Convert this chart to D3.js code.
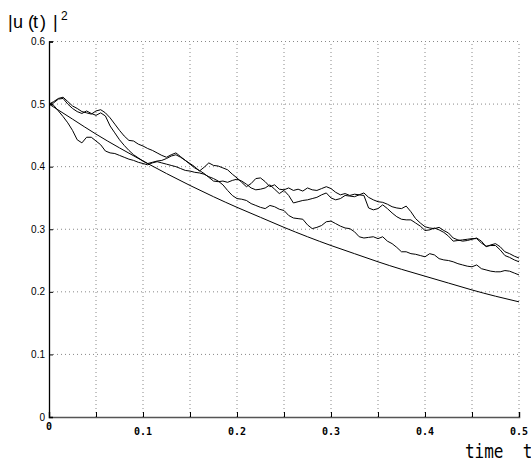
<!DOCTYPE html>
<html>
<head>
<meta charset="utf-8">
<script src="https://cdn.jsdelivr.net/npm/d3@7"></script>
<style>
  body { margin: 0; background: #fff; }
  svg { display: block; }
</style>
</head>
<body>
<svg width="531" height="463"></svg>
<script>
const width = 531;
const height = 463;

// sample times of the three simulated paths (step 0.005 from 0 to 0.5)
const timeStep = 0.005;
const pathTimes = d3.range(0, 0.5 + timeStep / 2, timeStep);

// three noisy paths
const pathA = [
  0.500, 0.504, 0.509, 0.511, 0.504, 0.497, 0.493, 0.488, 0.486, 0.484,
  0.489, 0.491, 0.486, 0.478, 0.468, 0.458, 0.449, 0.442, 0.441, 0.436,
  0.433, 0.429, 0.426, 0.422, 0.418, 0.415, 0.419, 0.422, 0.416, 0.410,
  0.405, 0.400, 0.393, 0.399, 0.406, 0.402, 0.401, 0.398, 0.395, 0.388,
  0.382, 0.375, 0.368, 0.373, 0.381, 0.382, 0.376, 0.368, 0.371, 0.364,
  0.363, 0.366, 0.362, 0.364, 0.361, 0.366, 0.363, 0.362, 0.365, 0.368,
  0.365, 0.359, 0.355, 0.357, 0.354, 0.356, 0.355, 0.358, 0.351, 0.347,
  0.344, 0.343, 0.340, 0.336, 0.334, 0.333, 0.337, 0.328, 0.317, 0.310,
  0.304, 0.302, 0.301, 0.303, 0.298, 0.294, 0.286, 0.283, 0.281, 0.282,
  0.284, 0.286, 0.281, 0.272, 0.275, 0.277, 0.272, 0.264, 0.261, 0.257,
  0.254
];
const pathB = [
  0.500, 0.502, 0.508, 0.509, 0.500, 0.493, 0.488, 0.485, 0.489, 0.485,
  0.482, 0.486, 0.481, 0.465, 0.454, 0.443, 0.434, 0.426, 0.419, 0.414,
  0.409, 0.405, 0.407, 0.409, 0.410, 0.413, 0.417, 0.419, 0.415, 0.410,
  0.404, 0.398, 0.394, 0.389, 0.383, 0.377, 0.376, 0.377, 0.375, 0.378,
  0.380, 0.377, 0.372, 0.366, 0.363, 0.364, 0.366, 0.371, 0.364, 0.357,
  0.362, 0.354, 0.342, 0.344, 0.346, 0.347, 0.349, 0.351, 0.355, 0.358,
  0.350, 0.347, 0.349, 0.354, 0.353, 0.352, 0.355, 0.354, 0.334, 0.331,
  0.333, 0.339, 0.333, 0.326, 0.320, 0.316, 0.315, 0.315, 0.310, 0.305,
  0.298, 0.299, 0.302, 0.299, 0.295, 0.289, 0.281, 0.282, 0.283, 0.284,
  0.285, 0.285, 0.278, 0.273, 0.274, 0.274, 0.267, 0.258, 0.255, 0.251,
  0.248
];
const pathC = [
  0.500, 0.498, 0.489, 0.480, 0.470, 0.458, 0.443, 0.438, 0.447, 0.447,
  0.441, 0.435, 0.425, 0.422, 0.421, 0.418, 0.415, 0.412, 0.410, 0.407,
  0.405, 0.403, 0.406, 0.408, 0.406, 0.404, 0.402, 0.400, 0.397, 0.394,
  0.393, 0.391, 0.390, 0.388, 0.384, 0.381, 0.377, 0.371, 0.362, 0.354,
  0.349, 0.348, 0.346, 0.341, 0.338, 0.335, 0.333, 0.338, 0.336, 0.332,
  0.330, 0.322, 0.318, 0.317, 0.316, 0.307, 0.301, 0.303, 0.306, 0.312,
  0.313, 0.309, 0.305, 0.302, 0.301, 0.296, 0.288, 0.286, 0.287, 0.288,
  0.285, 0.288, 0.281, 0.277, 0.271, 0.264, 0.264, 0.261, 0.260, 0.258,
  0.256, 0.261, 0.259, 0.253, 0.251, 0.250, 0.248, 0.245, 0.243, 0.241,
  0.240, 0.243, 0.237, 0.235, 0.233, 0.232, 0.232, 0.234, 0.233, 0.230,
  0.227
];

// the smooth (mean) curve, read every 0.025
const meanTimes = [0, 0.025, 0.05, 0.075, 0.1, 0.125, 0.15, 0.175, 0.2, 0.225,
  0.25, 0.275, 0.3, 0.325, 0.35, 0.375, 0.4, 0.425, 0.45, 0.475, 0.5];
const meanValues = [0.500, 0.476, 0.452, 0.430, 0.409, 0.389, 0.370, 0.352, 0.335, 0.319,
  0.303, 0.288, 0.274, 0.261, 0.248, 0.236, 0.225, 0.214, 0.203, 0.193, 0.184];

const xTicks = [0, 0.05, 0.1, 0.15, 0.2, 0.25, 0.3, 0.35, 0.4, 0.45, 0.5];
const xTickLabels = ['0', '0.1', '0.2', '0.3', '0.4', '0.5'];
const yTicks = [0, 0.1, 0.2, 0.3, 0.4, 0.5, 0.6];

const x = d3.scaleLinear().domain([0, 0.5]).range([49, 519]);
const y = d3.scaleLinear().domain([0, 0.6]).range([417, 41.5]);

const svg = d3.select('svg');
svg.append('rect').attr('width', width).attr('height', height).attr('fill', '#fff');

// dotted grid
svg.append('g')
  .selectAll('line')
  .data(xTicks.filter(d => d > 0))
  .join('line')
  .attr('x1', d => x(d)).attr('x2', d => x(d))
  .attr('y1', y(0)).attr('y2', y(0.6))
  .attr('stroke', '#888').attr('stroke-dasharray', '1,3');

svg.append('g')
  .selectAll('line')
  .data(yTicks.filter(d => d > 0))
  .join('line')
  .attr('x1', x(0)).attr('x2', x(0.5))
  .attr('y1', d => y(d)).attr('y2', d => y(d))
  .attr('stroke', '#888').attr('stroke-dasharray', '1,3');

// axes (ticks point inwards)
const xAxis = svg.append('g')
  .attr('transform', `translate(0,${y(0)})`)
  .call(d3.axisTop(x).tickValues(xTicks).tickSize(5).tickFormat(''));
xAxis.select('.domain').attr('stroke', '#555').attr('stroke-width', 1.6);
xAxis.selectAll('.tick line').attr('stroke', '#000');

const yAxis = svg.append('g')
  .attr('transform', `translate(${x(0)},0)`)
  .call(d3.axisRight(y).tickValues(yTicks).tickSize(4).tickFormat(''));
yAxis.select('.domain').attr('stroke', '#000').attr('stroke-width', 1.3);

// x tick labels
svg.append('g')
  .selectAll('text')
  .data(xTickLabels)
  .join('text')
  .attr('x', d => x(+d))
  .attr('y', d => d === '0' ? 430 : 435)
  .attr('text-anchor', 'middle')
  .attr('font-family', 'DejaVu Sans Mono, monospace')
  .attr('font-weight', 'bold')
  .attr('font-size', 10)
  .text(d => d);

// y tick labels
svg.append('g')
  .selectAll('text')
  .data(yTicks)
  .join('text')
  .attr('x', 45)
  .attr('y', d => y(d) + 3.5)
  .attr('text-anchor', 'end')
  .attr('font-family', 'Liberation Sans, Arial, sans-serif')
  .attr('font-size', 10)
  .text(d => d === 0 ? '0' : d3.format('.1f')(d));

// curves
const line = d3.line().x(d => x(d[0])).y(d => y(d[1]));

[pathA, pathB, pathC].forEach(vals => {
  svg.append('path')
    .datum(pathTimes.map((t, i) => [t, vals[i]]))
    .attr('d', line)
    .attr('fill', 'none')
    .attr('stroke', '#000')
    .attr('stroke-width', 1);
});

svg.append('path')
  .datum(meanTimes.map((t, i) => [t, meanValues[i]]))
  .attr('d', line.curve(d3.curveNatural))
  .attr('fill', 'none')
  .attr('stroke', '#000')
  .attr('stroke-width', 1);

// axis titles: |u(t)|^2 with wide spacing like the original
const title = svg.append('text')
  .attr('y', 28)
  .attr('font-family', 'Liberation Sans, Arial, sans-serif')
  .attr('font-size', 18);
[['|', 8], ['u', 13], ['(', 28], ['t', 33], [')', 40], ['|', 53]].forEach(([ch, px]) => {
  title.append('tspan').attr('x', px).text(ch);
});
svg.append('text')
  .attr('x', 61).attr('y', 20)
  .attr('font-family', 'Liberation Sans, Arial, sans-serif')
  .attr('font-size', 12)
  .text('2');

svg.append('text')
  .attr('transform', 'translate(465,458) scale(1,1.2)')
  .attr('font-family', 'DejaVu Sans Mono, monospace')
  .attr('font-size', 16)
  .style('white-space', 'pre')
  .text('time  t');
</script>
</body>
</html>
